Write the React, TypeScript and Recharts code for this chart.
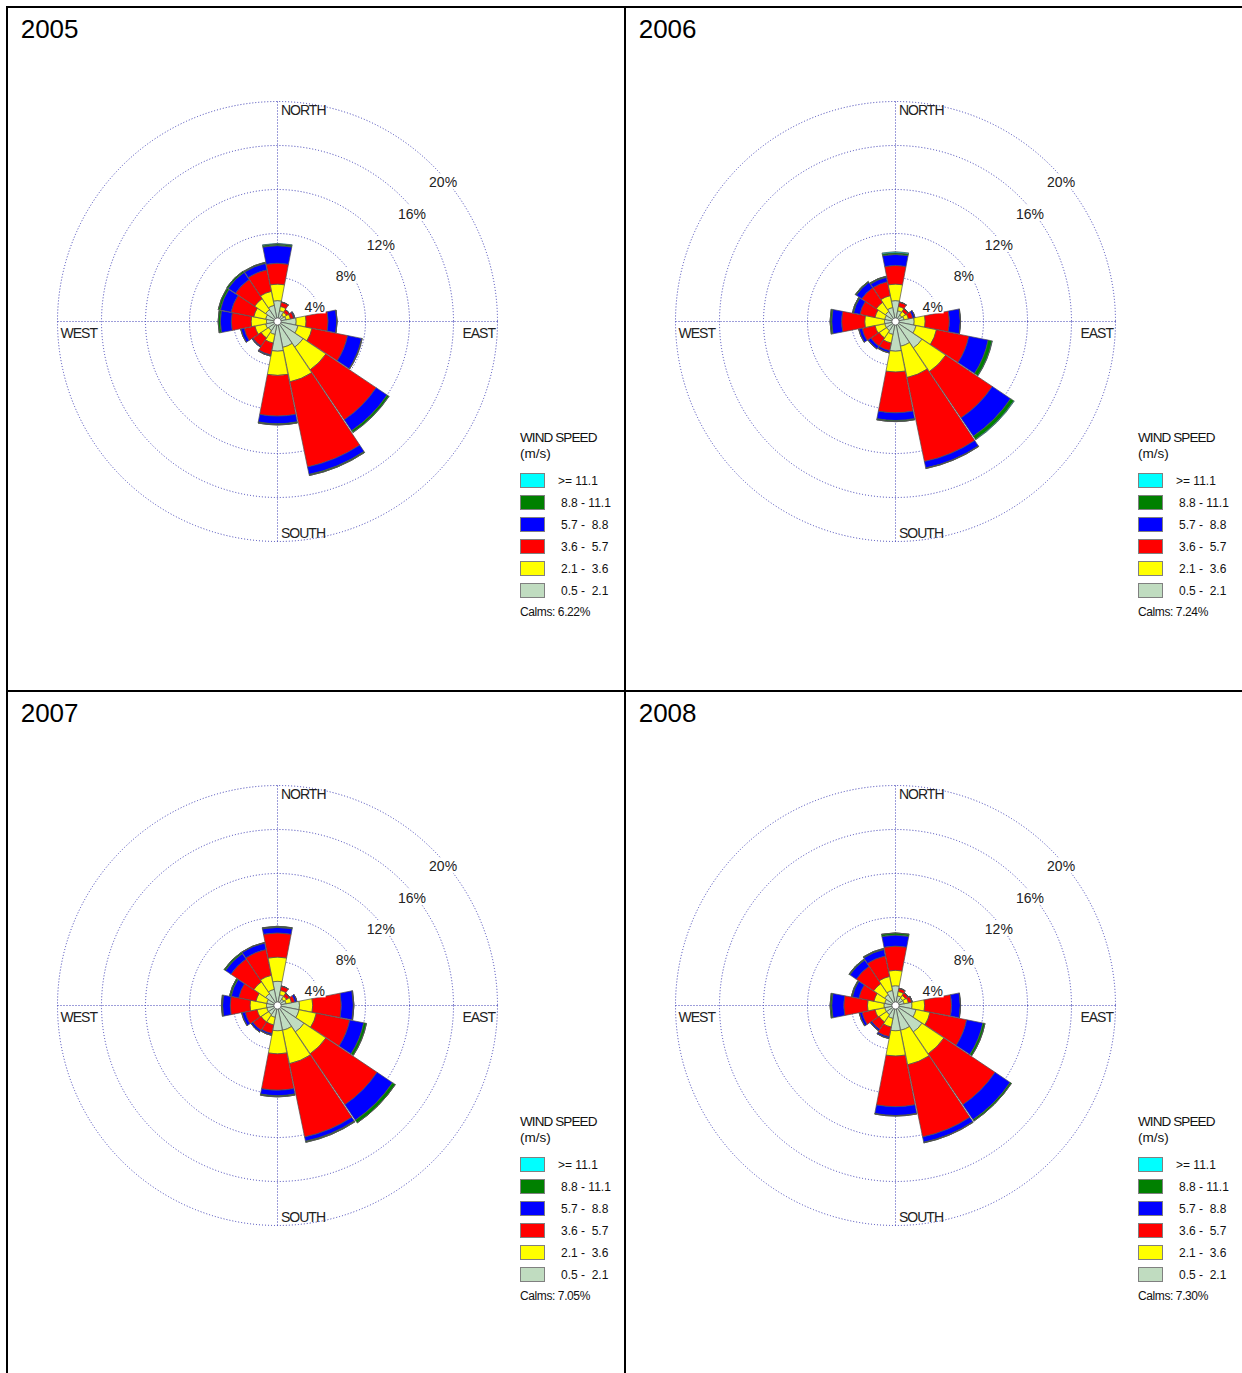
import React from 'react';
import { RadialBarChart, RadialBar, PolarAngleAxis, PolarRadiusAxis, PolarGrid } from 'recharts';

const directions = ['N', 'NNE', 'NE', 'ENE', 'E', 'ESE', 'SE', 'SSE', 'S', 'SSW', 'SW', 'WSW', 'W', 'WNW', 'NW', 'NNW'];
const speedKeys = ['s1', 's2', 's3', 's4', 's5', 's6'];
const speedColors = ['#c0dcc0', '#ffff00', '#ff0000', '#0000ff', '#008000', '#00ffff'];
// legend order: top to bottom
const legendLabels = ['>= 11.1', '8.8 - 11.1', '5.7 -  8.8', '3.6 -  5.7', '2.1 -  3.6', '0.5 -  2.1'];
const legendColors = ['#00ffff', '#008000', '#0000ff', '#ff0000', '#ffff00', '#c0dcc0'];
const radiusTicks = [4, 8, 12, 16, 20];
const years = ['2005', '2006', '2007', '2008'];
const calms = [6.22, 7.24, 7.05, 7.3];

// percent of time per direction, per speed class (m/s)
// order:             N     NNE   NE    ENE   E     ESE   SE    SSE   S     SSW   SW    WSW   W     WNW   NW    NNW
const y2005_s1 = [1.9, 1.0, 0.7, 0.8, 1.7, 1.9, 2.8, 2.4, 2.7, 1.2, 1.0, 1.1, 1.0, 1.1, 1.3, 1.5];
const y2005_s2 = [1.5, 0.4, 0.3, 0.4, 0.9, 1.3, 2.5, 3.2, 2.2, 0.8, 0.8, 1.0, 1.4, 1.1, 1.2, 1.3];
const y2005_s3 = [1.9, 0.4, 0.3, 0.3, 2.0, 3.3, 5.5, 7.9, 3.7, 1.1, 0.9, 1.0, 1.8, 2.1, 2.1, 2.0];
const y2005_s4 = [1.6, 0.0, 0.0, 0.1, 0.8, 1.3, 1.2, 0.7, 0.7, 0.1, 0.1, 0.3, 1.0, 1.0, 0.8, 0.6];
const y2005_s5 = [0.15, 0, 0, 0, 0.02, 0.05, 0.2, 0.1, 0.1, 0, 0, 0.02, 0.2, 0.2, 0.15, 0.1];
const y2005_s6 = [0.05, 0, 0, 0, 0, 0, 0.02, 0, 0, 0, 0, 0, 0, 0, 0, 0];

const y2006_s1 = [1.9, 1.0, 0.7, 0.8, 1.7, 1.9, 2.9, 2.3, 2.7, 1.2, 1.0, 1.0, 1.0, 1.0, 1.1, 1.3];
const y2006_s2 = [1.5, 0.4, 0.4, 0.4, 1.0, 1.9, 2.6, 2.9, 1.9, 0.8, 0.8, 0.9, 1.8, 0.9, 1.0, 1.1];
const y2006_s3 = [1.7, 0.4, 0.3, 0.4, 2.2, 3.0, 5.1, 7.8, 3.7, 0.7, 0.9, 1.2, 2.1, 1.4, 1.6, 1.3];
const y2006_s4 = [1.0, 0, 0, 0.2, 1.0, 1.8, 2.0, 0.6, 0.7, 0.2, 0.3, 0.3, 0.9, 0.6, 0.6, 0.4];
const y2006_s5 = [0.15, 0, 0, 0, 0.02, 0.35, 0.35, 0.05, 0.1, 0.02, 0.02, 0.02, 0.15, 0.1, 0.1, 0.1];
const y2006_s6 = [0.1, 0, 0, 0, 0, 0.03, 0.05, 0, 0, 0, 0, 0, 0, 0, 0, 0];

const y2007_s1 = [2.2, 1.0, 0.7, 0.8, 2.0, 2.0, 2.9, 2.3, 2.3, 1.1, 1.0, 1.0, 1.0, 1.0, 1.3, 1.5];
const y2007_s2 = [2.2, 0.4, 0.3, 0.5, 1.2, 1.6, 2.4, 3.1, 2.1, 0.7, 0.8, 0.9, 1.5, 1.0, 1.3, 1.3];
const y2007_s3 = [2.2, 0.4, 0.3, 0.3, 2.6, 3.1, 5.6, 6.8, 3.3, 0.8, 0.9, 1.1, 1.8, 1.6, 2.5, 2.4];
const y2007_s4 = [0.5, 0, 0.05, 0.2, 1.1, 1.3, 1.7, 0.4, 0.5, 0.15, 0.2, 0.3, 0.7, 0.7, 0.6, 0.6];
const y2007_s5 = [0.1, 0, 0, 0, 0.05, 0.25, 0.3, 0.1, 0.1, 0.02, 0.02, 0.03, 0.1, 0.15, 0.15, 0.05];
const y2007_s6 = [0, 0, 0, 0, 0, 0, 0, 0, 0, 0, 0, 0, 0, 0, 0, 0];

const y2008_s1 = [1.8, 0.9, 0.8, 0.8, 1.5, 1.9, 2.9, 2.3, 2.3, 1.2, 1.0, 1.0, 1.05, 1.0, 1.2, 1.4];
const y2008_s2 = [1.4, 0.4, 0.3, 0.4, 1.15, 1.3, 2.4, 3.2, 2.3, 0.8, 0.8, 0.9, 1.5, 1.0, 1.2, 1.3];
const y2008_s3 = [2.2, 0.3, 0.3, 0.3, 2.45, 3.4, 5.6, 6.7, 4.6, 0.9, 0.8, 1.2, 2.15, 1.4, 1.9, 1.9];
const y2008_s4 = [1.0, 0, 0, 0.05, 0.8, 1.5, 1.65, 0.5, 0.8, 0.15, 0.15, 0.25, 1.1, 0.6, 0.7, 0.6];
const y2008_s5 = [0.2, 0, 0, 0, 0.02, 0.2, 0.15, 0.05, 0.05, 0.02, 0.02, 0.02, 0.15, 0.1, 0.1, 0.1];
const y2008_s6 = [0, 0, 0, 0, 0, 0, 0, 0, 0, 0, 0, 0, 0, 0, 0, 0];

const yearSeries = [
  [y2005_s1, y2005_s2, y2005_s3, y2005_s4, y2005_s5, y2005_s6],
  [y2006_s1, y2006_s2, y2006_s3, y2006_s4, y2006_s5, y2006_s6],
  [y2007_s1, y2007_s2, y2007_s3, y2007_s4, y2007_s5, y2007_s6],
  [y2008_s1, y2008_s2, y2008_s3, y2008_s4, y2008_s5, y2008_s6],
];

const FONT = "Arial, 'Liberation Sans', sans-serif";
const W = 616;
const H = 682;
const CX = 269.5;
const CY = 313.5;
const R = 220;

const RadiusTick = (props: any) => {
  const { x, y, payload } = props;
  return (
    <g>
      <rect x={x - 6} y={y + 8} width={payload.value < 10 ? 23 : 30} height={15} fill="#ffffff" />
      <text x={x - 4} y={y + 21.5} textAnchor="start" fontSize={14} fontFamily={FONT} fill="#222">
        {`${payload.value}%`}
      </text>
    </g>
  );
};

function Panel({ idx, left, top }: { idx: number; left: number; top: number }) {
  const series = yearSeries[idx];
  const data = directions.map((d, i) => {
    const row: any = { dir: d };
    speedKeys.forEach((k, j) => {
      row[k] = series[j][i];
    });
    return row;
  });
  return (
    <div style={{ position: 'absolute', left, top, width: W, height: H }}>
      <RadialBarChart
        width={W}
        height={H}
        cx={CX}
        cy={CY}
        innerRadius={0}
        outerRadius={R}
        startAngle={78.75}
        endAngle={-281.25}
        layout="centric"
        data={data}
        barCategoryGap={0.4}
        margin={{ top: 0, right: 0, bottom: 0, left: 0 }}
      >
        <PolarGrid gridType="circle" polarAngles={[0, 90, 180, 270]} stroke="#3c3cb4" strokeDasharray="1 2" />
        <PolarAngleAxis type="category" dataKey="dir" tick={false} axisLine={false} tickLine={false} />
        <PolarRadiusAxis
          type="number"
          domain={[0, 20]}
          ticks={radiusTicks}
          angle={45}
          axisLine={false}
          tickLine={false}
          tick={RadiusTick}
        />
        {speedKeys.map((k, i) => (
          <RadialBar
            key={k}
            dataKey={k}
            stackId="wind"
            fill={speedColors[i]}
            stroke="#505050"
            strokeWidth={0.7}
            isAnimationActive={false}
          />
        ))}
      </RadialBarChart>
      <svg
        width={W}
        height={H}
        style={{ position: 'absolute', left: 0, top: 0, pointerEvents: 'none' }}
        fontFamily={FONT}
      >
        <circle cx={CX} cy={CY} r={3.6} fill="#ffffff" stroke="#505050" strokeWidth={0.7} />
        <text x={12.7} y={30} fontSize={26} fill="#000">{years[idx]}</text>
        <text x={CX + 3.5} y={CY - R + 13.5} fontSize={14} letterSpacing={-1} fill="#222">NORTH</text>
        <text x={CX + 3.5} y={CY + R - 3.5} fontSize={14} letterSpacing={-1} fill="#222">SOUTH</text>
        <text x={CX - R + 3} y={CY + 16} fontSize={14} letterSpacing={-1} fill="#222">WEST</text>
        <text x={CX + R - 2.5} y={CY + 16} fontSize={14} letterSpacing={-1} textAnchor="end" fill="#222">EAST</text>
        <text x={512} y={433.7} fontSize={13.5} letterSpacing={-0.9} fill="#111">WIND SPEED</text>
        <text x={512} y={450} fontSize={13.5} fill="#111">(m/s)</text>
        {legendLabels.map((lab, i) => (
          <g key={lab}>
            <rect x={512.5} y={465.5 + 22 * i} width={24} height={14} fill={legendColors[i]} stroke="#808080" strokeWidth={1} />
            <text
              x={i === 0 ? 550 : 553}
              y={476.5 + 22 * i}
              fontSize={12}
              fill="#111"
              style={{ whiteSpace: 'pre' }}
            >
              {lab}
            </text>
          </g>
        ))}
        <text x={512} y={608} fontSize={12} letterSpacing={-0.4} fill="#111">{`Calms: ${calms[idx].toFixed(2)}%`}</text>
      </svg>
    </div>
  );
}

export default function App() {
  return (
    <div style={{ position: 'absolute', left: 0, top: 0, width: 1242, height: 1373, background: '#fff', overflow: 'hidden' }}>
      <Panel idx={0} left={8} top={8} />
      <Panel idx={1} left={626} top={8} />
      <Panel idx={2} left={8} top={692} />
      <Panel idx={3} left={626} top={692} />
      <div style={{ position: 'absolute', left: 6, top: 6, width: 1236, height: 2, background: '#000' }} />
      <div style={{ position: 'absolute', left: 6, top: 690, width: 1236, height: 2, background: '#000' }} />
      <div style={{ position: 'absolute', left: 6, top: 6, width: 2, height: 1367, background: '#000' }} />
      <div style={{ position: 'absolute', left: 624, top: 6, width: 2, height: 1367, background: '#000' }} />
    </div>
  );
}
